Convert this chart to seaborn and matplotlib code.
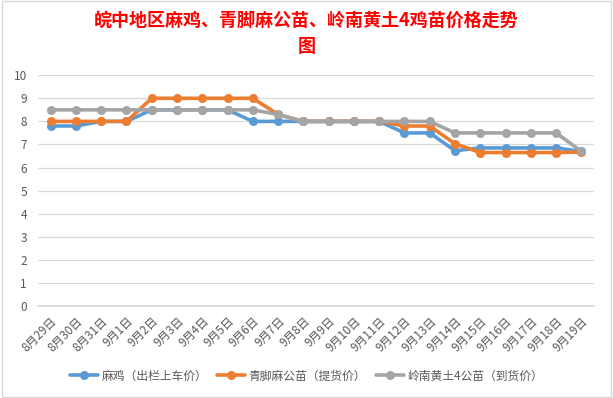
import pandas as pd
import matplotlib
matplotlib.use("Agg")
import matplotlib.pyplot as plt
import seaborn as sns

dates = ["8月29日", "8月30日", "8月31日", "9月1日", "9月2日", "9月3日", "9月4日",
         "9月5日", "9月6日", "9月7日", "9月8日", "9月9日", "9月10日", "9月11日",
         "9月12日", "9月13日", "9月14日", "9月15日", "9月16日", "9月17日",
         "9月18日", "9月19日"]
maji = [7.8, 7.8, 8, 8, 8.5, 8.5, 8.5, 8.5, 8, 8, 8, 8, 8, 8,
        7.5, 7.5, 6.73, 6.85, 6.85, 6.85, 6.85, 6.7]
qingjiao = [8, 8, 8, 8, 9, 9, 9, 9, 9, 8.3, 8, 8, 8, 8,
            7.8, 7.8, 7.03, 6.65, 6.65, 6.65, 6.65, 6.67]
lingnan = [8.5, 8.5, 8.5, 8.5, 8.5, 8.5, 8.5, 8.5, 8.5, 8.3, 8, 8, 8, 8,
           8, 8, 7.5, 7.5, 7.5, 7.5, 7.5, 6.7]
series_names = ["麻鸡（出栏上车价）", "青脚麻公苗（提货价）", "岭南黄土4公苗（到货价）"]
colors = ["#5B9BD5", "#ED7D31", "#A5A5A5"]

rows = []
for name, vals in zip(series_names, [maji, qingjiao, lingnan]):
    for i, v in enumerate(vals):
        rows.append({"pos": i, "price": v, "series": name})
df = pd.DataFrame(rows)

sns.set_theme(style="white")
plt.rcParams['font.family'] = ['Noto Sans CJK SC', 'DejaVu Sans']

fig = plt.figure(figsize=(6.13, 3.98), dpi=100)
ax = fig.add_axes([0.062, 0.231, 0.907, 0.580])

sns.lineplot(data=df, x="pos", y="price", hue="series", hue_order=series_names,
             palette=colors, marker="o", markersize=6.5, markeredgewidth=0,
             linewidth=2.6, ax=ax)

ax.set_xlim(-0.5, len(dates) - 0.5)
ax.set_ylim(0, 10)
ax.set_yticks(range(0, 11))
ax.yaxis.grid(True, color="#D9D9D9", linewidth=0.9)
ax.set_axisbelow(True)
ax.set_xticks(range(len(dates)))
ax.set_xticklabels(dates, rotation=45, ha="right", rotation_mode="anchor")
ax.set_xticks([i - 0.5 for i in range(len(dates) + 1)], minor=True)
ax.tick_params(axis="x", which="major", length=0, pad=6, labelsize=8.5, colors="#595959")
ax.tick_params(axis="x", which="minor", length=4, color="#D9D9D9", direction="out")
ax.tick_params(axis="y", length=0, labelsize=8.5, colors="#595959", pad=8)
for s in ["top", "right", "left"]:
    ax.spines[s].set_visible(False)
ax.spines["bottom"].set_color("#D9D9D9")
ax.set_xlabel("")
ax.set_ylabel("")

ax.legend_.remove()
handles, labels = ax.get_legend_handles_labels()
fig.legend(handles, labels, loc="center", bbox_to_anchor=(0.5, 0.055), ncol=3,
           frameon=False, fontsize=8.5, handlelength=2.4, columnspacing=0.8,
           handletextpad=0.3, labelcolor="#595959")

fig.text(0.5, 0.95, "皖中地区麻鸡、青脚麻公苗、岭南黄土4鸡苗价格走势", ha="center", va="center",
         fontsize=13, fontweight="bold", color="#FF0000")
fig.text(0.5, 0.882, "图", ha="center", va="center",
         fontsize=13, fontweight="bold", color="#FF0000")

fig.patches.append(plt.Rectangle((0.003, 0.003), 0.994, 0.994, transform=fig.transFigure,
                                 fill=False, edgecolor="#D9D9D9", linewidth=1))

fig.savefig("out.png", dpi=100)
